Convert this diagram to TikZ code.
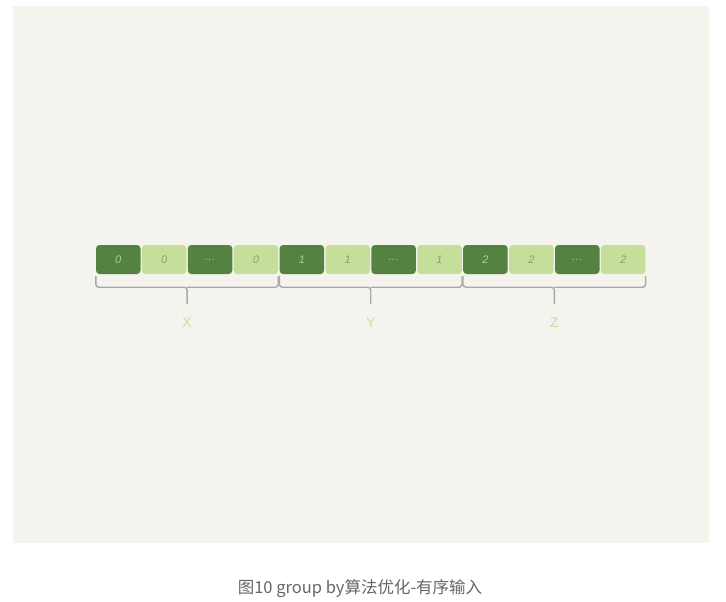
\documentclass[tikz,border=0pt]{standalone}
\usepackage{fontspec}
\setmainfont{Liberation Sans}
\newfontfamily\cjk{Noto Sans CJK SC}
\usepackage{xcolor}
\usetikzlibrary{positioning, calc}

\definecolor{paper}{HTML}{F4F3EE}
\definecolor{darkleaf}{HTML}{548240}
\definecolor{lightleaf}{HTML}{C5DF9B}
\definecolor{bracegray}{HTML}{A8A8A8}
\definecolor{labelgreen}{HTML}{C8DCA0}
\newcommand{\gap}{\ldots}

\tikzset{
    cell/.style={minimum width=44.5, minimum height=29, rounded corners=3.5, inner sep=0pt, font=\fontsize{11}{11}\selectfont\itshape},
    darkcell/.style={cell, fill=darkleaf, text=lightleaf!80!gray},
    lightcell/.style={cell, fill=lightleaf, text=darkleaf!60!lightleaf},
    groupbrace/.style={bracegray, line width=1.4, rounded corners=3},
    grouplabel/.style={text=labelgreen, font=\fontsize{14}{14}\selectfont}
}

\begin{document}
\begin{tikzpicture}[x=1pt, y=-1pt]
    % Frame and background
    \useasboundingbox (0,0) rectangle (726,602);
    \fill[white] (0,0) rectangle (726,602);
    \fill[paper] (13,6) rectangle (709,543);

    % The sorted input row
    \foreach \v/\s [count=\i from 0] in {0/dark, 0/light, \gap/dark, 0/light,
                                         1/dark, 1/light, \gap/dark, 1/light,
                                         2/dark, 2/light, \gap/dark, 2/light} {
        \node[\s cell] (b\i) at (118.25+\i*45.9, 259.5) {\v};
    }

    % Braces under each group
    \foreach \g/\a/\b/\t in {x/0/3/X, y/4/7/Y, z/8/11/Z} {
        \coordinate (\g l) at ([yshift=-2]b\a.south west);
        \coordinate (\g r) at ([yshift=-2]b\b.south east);
        \coordinate (\g m) at ($(\g l)!0.5!(\g r)+(0,11)$);
        \draw[groupbrace] (\g l) |- (\g m) -- ++(0,17) coordinate (\g tip);
        \draw[groupbrace] (\g r) |- (\g m);
        \node[grouplabel, below=10pt of \g tip] (\g lab) {\t};
    }

    % Caption
    \node[text=black!60, font=\cjk\fontsize{16.5}{16.5}\selectfont] (caption) at (360,589) {图10 group by算法优化-有序输入};
\end{tikzpicture}
\end{document}
